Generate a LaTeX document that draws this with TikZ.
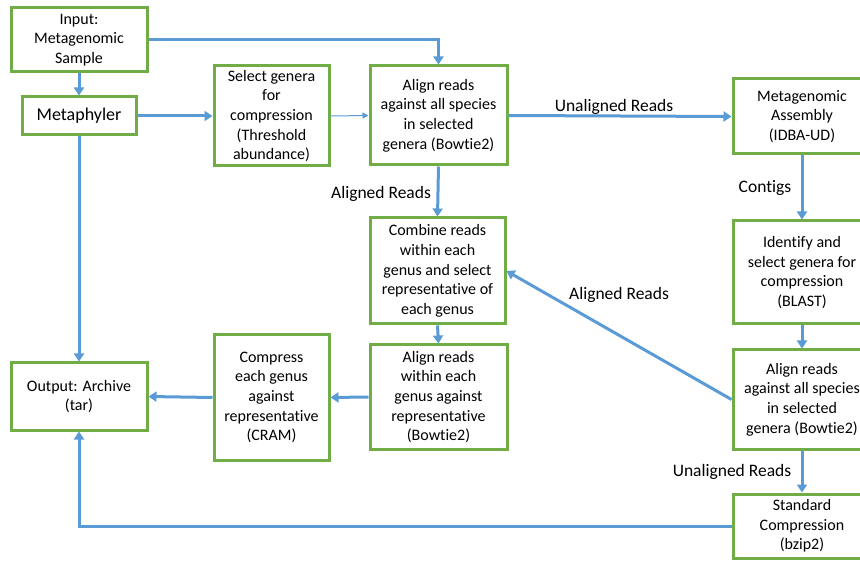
\documentclass[tikz,border=0pt]{standalone}
\usepackage{fontspec}
\setmainfont{Carlito}[Ligatures={NoCommon}]
\usetikzlibrary{arrows.meta}
\definecolor{boxgreen}{HTML}{70AD47}
\definecolor{lineblue}{HTML}{5B9BD5}
\begin{document}
\begin{tikzpicture}[x=1pt,y=-1pt,
  box/.style={draw=boxgreen, line width=3pt, fill=white, align=center, inner sep=0pt,
    font=\fontsize{16}{19.6}\selectfont},
  conn/.style={draw=lineblue, line width=3pt, -{Triangle[length=8pt,width=10pt]}},
  thinconn/.style={draw=lineblue, line width=1pt, -{Triangle[length=6pt,width=6pt]}},
  lbl/.style={font=\fontsize{17.5}{21}\selectfont, inner sep=0pt}]
\useasboundingbox (0,0) rectangle (860,561);
\clip (0,0) rectangle (860,561);
\fill[white] (0,0) rectangle (860,561);
% nodes
\node[box, minimum width=136pt, minimum height=64pt] (in) at (79,40) {Input:\\Metagenomic\\Sample};
\node[box, minimum width=114pt, minimum height=38pt, font=\fontsize{18}{22}\selectfont] (meta) at (79,116) {Metaphyler};
\node[box, minimum width=115pt, minimum height=100pt] (sel) at (271.5,116) {Select genera\\for\\compression\\(Threshold\\abundance)};
\node[box, minimum width=137pt, minimum height=99pt] (al1) at (438.5,115.5) {Align reads\\against all species\\in selected\\genera (Bowtie2)};
\node[box, minimum width=138pt, minimum height=75pt] (asm) at (802,116.5) {Metagenomic\\Assembly\\(IDBA-UD)};
\node[box, minimum width=138pt, minimum height=103pt] (ident) at (802,272.5) {Identify and\\select genera for\\compression\\(BLAST)};
\node[box, minimum width=138pt, minimum height=99pt] (al2) at (802,399.5) {Align reads\\against all species\\in selected\\genera (Bowtie2)};
\node[box, minimum width=138pt, minimum height=64pt] (std) at (802,526) {Standard\\Compression\\(bzip2)};
\node[box, minimum width=135pt, minimum height=106pt] (comb) at (437.5,271) {Combine reads\\within each\\genus and select\\representative of\\each genus};
\node[box, minimum width=137pt, minimum height=104pt] (alw) at (438.5,397) {Align reads\\within each\\genus against\\representative\\(Bowtie2)};
\node[box, minimum width=115pt, minimum height=125pt] (cmp) at (271.5,397.5) {Compress\\each genus\\against\\representative\\(CRAM)};
\node[box, minimum width=136pt, minimum height=67pt] (out) at (79,396.5) {Output: Archive\\(tar)};
% connectors
\draw[conn] (in.east) -| (al1.north);
\draw[conn] (in.south) -- (meta.north);
\draw[conn] (meta.east) -- (sel.west);
\draw[thinconn] (sel.east) -- (al1.west);
\draw[conn] (meta.south) -- (out.north);
\draw[conn] (al1.east) -- (asm.west);
\draw[conn] (al1.south) -- (comb.north);
\draw[conn] (asm.south) -- (ident.north);
\draw[conn] (ident.south) -- (al2.north);
\draw[conn] (al2.west) -- (comb.east);
\draw[conn] (comb.south) -- (alw.north);
\draw[conn] (alw.west) -- (cmp.east);
\draw[conn] (cmp.west) -- (out.east);
\draw[conn] (al2.south) -- (std.north);
\draw[conn] (std.west) -| (out.south);
% labels
\node[lbl] (l1) at (614,107) {Unaligned Reads};
\node[lbl] (l2) at (381,194) {Aligned Reads};
\node[lbl] (l3) at (765,188) {Contigs};
\node[lbl] (l4) at (619,295) {Aligned Reads};
\node[lbl] (l5) at (732,472) {Unaligned Reads};
\end{tikzpicture}
\end{document}
